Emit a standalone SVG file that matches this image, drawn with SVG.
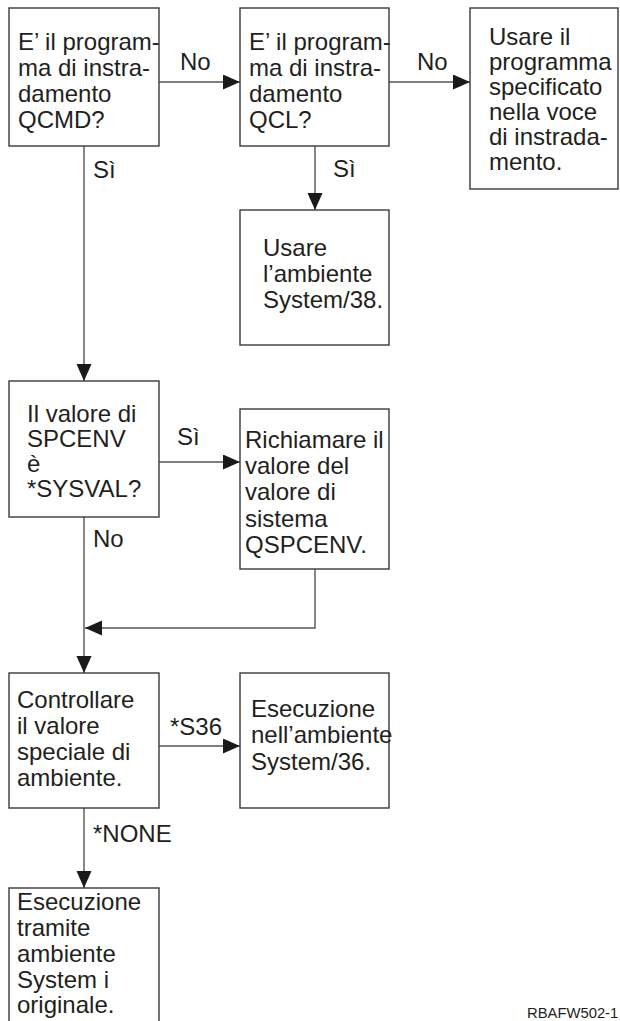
<svg xmlns="http://www.w3.org/2000/svg" width="620" height="1021" viewBox="0 0 620 1021">
<style>
.box{fill:#ffffff;stroke:#3a3a3a;stroke-width:1.4}
.t{font-family:"Liberation Sans",Arial,sans-serif;font-size:24px;fill:#231f20}
.lbl{font-family:"Liberation Sans",Arial,sans-serif;font-size:24px;fill:#231f20}
.c{fill:none;stroke:#555555;stroke-width:1.4}
.id{font-family:"Liberation Sans",Arial,sans-serif;font-size:14.8px;fill:#231f20}
</style>
<defs>
<marker id="ah" markerUnits="userSpaceOnUse" markerWidth="18" markerHeight="16" refX="17" refY="7.5" orient="auto">
<path d="M0,0 L17,7.5 L0,15 Z" fill="#1a1a1a"/>
</marker>
</defs>
<rect width="620" height="1021" fill="#ffffff"/>
<g id="connectors">
<line class="c" x1="159" y1="82" x2="240" y2="82" marker-end="url(#ah)"/>
<line class="c" x1="389" y1="82" x2="470" y2="82" marker-end="url(#ah)"/>
<line class="c" x1="315" y1="146" x2="315" y2="210" marker-end="url(#ah)"/>
<line class="c" x1="84" y1="146" x2="84" y2="381" marker-end="url(#ah)"/>
<line class="c" x1="159" y1="462" x2="240" y2="462" marker-end="url(#ah)"/>
<polyline class="c" points="315,569 315,628 85,628" marker-end="url(#ah)"/>
<line class="c" x1="84" y1="517" x2="84" y2="673" marker-end="url(#ah)"/>
<line class="c" x1="159" y1="746" x2="240" y2="746" marker-end="url(#ah)"/>
<line class="c" x1="84" y1="808" x2="84" y2="888" marker-end="url(#ah)"/>
<text class="lbl" x="180" y="70">No</text>
<text class="lbl" x="417" y="70">No</text>
<text class="lbl" x="333" y="177">Sì</text>
<text class="lbl" x="93" y="178">Sì</text>
<text class="lbl" x="177" y="445">Sì</text>
<text class="lbl" x="93" y="547">No</text>
<text class="lbl" x="170" y="735">*S36</text>
<text class="lbl" x="93" y="842">*NONE</text>
</g>
<g id="n1">
<rect class="box" x="9" y="8" width="150" height="138"/>
<text class="t" x="18" y="50">E’ il program-</text>
<text class="t" x="18" y="76">ma di instra-</text>
<text class="t" x="18" y="102">damento</text>
<text class="t" x="18" y="128">QCMD?</text>
</g>
<g id="n2">
<rect class="box" x="240" y="8" width="149" height="138"/>
<text class="t" x="249" y="50">E’ il program-</text>
<text class="t" x="249" y="76">ma di instra-</text>
<text class="t" x="249" y="102">damento</text>
<text class="t" x="249" y="128">QCL?</text>
</g>
<g id="n3">
<rect class="box" x="470" y="8" width="148" height="181"/>
<text class="t" x="489" y="45">Usare il</text>
<text class="t" x="489" y="70">programma</text>
<text class="t" x="489" y="95">specificato</text>
<text class="t" x="489" y="120">nella voce</text>
<text class="t" x="489" y="145">di instrada-</text>
<text class="t" x="489" y="170">mento.</text>
</g>
<g id="n4">
<rect class="box" x="240" y="210" width="149" height="135"/>
<text class="t" x="263" y="256">Usare</text>
<text class="t" x="263" y="282">l’ambiente</text>
<text class="t" x="263" y="308">System/38.</text>
</g>
<g id="n5">
<rect class="box" x="9" y="381" width="150" height="136"/>
<text class="t" x="27" y="422">Il valore di</text>
<text class="t" x="27" y="447">SPCENV</text>
<text class="t" x="27" y="472">è</text>
<text class="t" x="27" y="497">*SYSVAL?</text>
</g>
<g id="n6">
<rect class="box" x="240" y="409" width="149" height="160"/>
<text class="t" x="245" y="448">Richiamare il</text>
<text class="t" x="245" y="474">valore del</text>
<text class="t" x="245" y="500">valore di</text>
<text class="t" x="245" y="527">sistema</text>
<text class="t" x="245" y="553">QSPCENV.</text>
</g>
<g id="n7">
<rect class="box" x="9" y="673" width="150" height="135"/>
<text class="t" x="17" y="708">Controllare</text>
<text class="t" x="17" y="734">il valore</text>
<text class="t" x="17" y="760">speciale di</text>
<text class="t" x="17" y="786">ambiente.</text>
</g>
<g id="n8">
<rect class="box" x="240" y="673" width="149" height="135"/>
<text class="t" x="251" y="717">Esecuzione</text>
<text class="t" x="251" y="743">nell’ambiente</text>
<text class="t" x="251" y="770">System/36.</text>
</g>
<g id="n9">
<rect class="box" x="9" y="888" width="150" height="150"/>
<text class="t" x="17" y="910">Esecuzione</text>
<text class="t" x="17" y="936">tramite</text>
<text class="t" x="17" y="962">ambiente</text>
<text class="t" x="17" y="988">System i</text>
<text class="t" x="17" y="1013">originale.</text>
</g>
<text class="id" x="527" y="1018">RBAFW502-1</text>
</svg>
